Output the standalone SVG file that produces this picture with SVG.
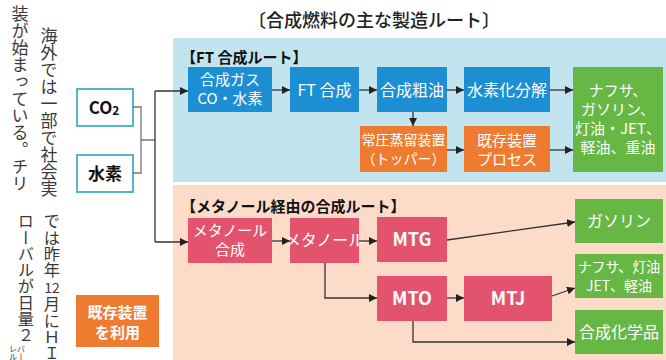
<svg xmlns="http://www.w3.org/2000/svg" width="666" height="360" viewBox="0 0 666 360">
<style>
text{font-family:"Noto Sans CJK JP","Liberation Sans",sans-serif}
.np{font-size:17px;fill:#3a3a3a;writing-mode:vertical-rl}
.np2{font-size:16.3px;fill:#3a3a3a;writing-mode:vertical-rl}
.sm{font-size:8px;fill:#3a3a3a;writing-mode:vertical-rl}
.w{fill:#fff;text-anchor:middle}
.t16{font-size:16px}
.t15{font-size:15px}
.t14{font-size:14px}
.t17{font-size:17px}
.b{font-weight:bold}
.blue{fill:#1c8ed3}
.org{fill:#ee7b30}
.grn{fill:#67b745}
.pink{fill:#e3536e}
.src{fill:#fff;stroke:#56b6c6;stroke-width:2}
.ln{fill:none;stroke:#333;stroke-width:1.3}
.br{fill:none;stroke:#777;stroke-width:1.3}
</style>
<defs>
<marker id="ah" viewBox="0 0 10 10" refX="10" refY="5" markerWidth="8" markerHeight="8" markerUnits="userSpaceOnUse" orient="auto">
<path d="M0,0 L10,5 L0,10 z" fill="#222"/>
</marker>
</defs>
<rect width="666" height="360" fill="#fff"/>
<!-- newspaper text -->
<g id="newspaper">
<text class="np" x="20" y="5">装が始まっている。チリ</text>
<text class="np" x="49" y="27">海外では一部で社会実</text>
<text class="np2" x="26" y="213">ローバルが日量２</text>
<text class="sm" x="21" y="345">バー</text>
<text class="sm" x="13" y="345">レル</text>
<text class="np2" x="52" y="213">では昨年</text>
<text x="52" y="293" style="font-size:14px;fill:#3a3a3a;text-anchor:middle">12</text>
<text class="np2" x="52" y="296">月にＨＩ</text>
</g>
<!-- title -->
<text x="374" y="27" style="font-size:18px;fill:#222;text-anchor:middle;font-weight:500">〔合成燃料の主な製造ルート〕</text>
<!-- panels -->
<rect id="panel-ft" x="173" y="38" width="493" height="144" fill="#c2e4ef"/>
<rect id="panel-meth" x="173" y="185" width="493" height="175" fill="#fcdcc8"/>
<text x="181" y="63" class="t15 b" fill="#111">【FT 合成ルート】</text>
<text x="181" y="212" class="t15 b" fill="#111">【メタノール経由の合成ルート】</text>
<!-- sources -->
<g id="co2"><rect class="src" x="77" y="89" width="56" height="37"/><text x="104" y="114" class="t17 b" text-anchor="middle" fill="#111">CO<tspan font-size="12" dy="1">2</tspan></text></g>
<g id="h2"><rect class="src" x="77" y="155" width="56" height="37"/><text x="105" y="180" class="t17 b" text-anchor="middle" fill="#111">水素</text></g>
<g id="legend"><rect class="org" x="76" y="295" width="83" height="52"/><text class="w t15 b" x="117.5" y="318">既存装置</text><text class="w t15 b" x="117.5" y="338">を利用</text></g>
<!-- FT route nodes -->
<g id="syngas"><rect class="blue" x="188" y="67" width="84" height="45"/><text class="w t15" x="230" y="85">合成ガス</text><text class="w t15" x="230" y="104">CO・水素</text></g>
<g id="ft"><rect class="blue" x="290" y="67" width="69" height="45"/><text class="w t16" x="324.5" y="96">FT 合成</text></g>
<g id="crude"><rect class="blue" x="377" y="67" width="70" height="45"/><text class="w t16" x="412" y="96">合成粗油</text></g>
<g id="hydro"><rect class="blue" x="464" y="67" width="86" height="45"/><text class="w t16" x="507" y="96">水素化分解</text></g>
<g id="fuels1"><rect class="grn" x="573" y="67" width="90" height="105"/><text class="w t15" x="618" y="96">ナフサ、</text><text class="w t15" x="618" y="115">ガソリン、</text><text class="w t15" x="618" y="134">灯油・JET、</text><text class="w t15" x="618" y="153">軽油、重油</text></g>
<g id="topper"><rect class="org" x="360" y="126" width="87" height="46"/><text class="w t14" x="403.5" y="145">常圧蒸留装置</text><text class="w t14" x="403.5" y="164">（トッパー）</text></g>
<g id="existing"><rect class="org" x="464" y="126" width="86" height="46"/><text class="w t15" x="507" y="146">既存装置</text><text class="w t15" x="507" y="165">プロセス</text></g>
<!-- methanol route nodes -->
<g id="methsyn"><rect class="pink" x="188" y="218" width="84" height="45"/><text class="w t15" x="230" y="236">メタノール</text><text class="w t15" x="230" y="255">合成</text></g>
<g id="methanol"><rect class="pink" x="290" y="218" width="69" height="45"/><text class="w t16" x="324.5" y="246">メタノール</text></g>
<g id="mtg"><rect class="pink" x="377" y="217" width="70" height="45"/><text class="w b" style="font-size:18px" x="412" y="246">MTG</text></g>
<g id="mto"><rect class="pink" x="377" y="276" width="70" height="45"/><text class="w b" style="font-size:18px" x="412" y="305">MTO</text></g>
<g id="mtj"><rect class="pink" x="464" y="276" width="88" height="45"/><text class="w b" style="font-size:18px" x="508" y="305">MTJ</text></g>
<g id="gasoline"><rect class="grn" x="575" y="199" width="88" height="44"/><text class="w t16" x="619" y="227">ガソリン</text></g>
<g id="jet"><rect class="grn" x="575" y="254" width="88" height="44"/><text class="w t14" x="619" y="272">ナフサ、灯油</text><text class="w t14" x="619" y="291">JET、軽油</text></g>
<g id="chem"><rect class="grn" x="575" y="310" width="88" height="44"/><text class="w t16" x="619" y="338">合成化学品</text></g>
<!-- connectors -->
<g id="connectors">
<path class="br" d="M133,107 H141 V173 H133 M141,140 H155"/>
<path class="ln" d="M155,91 V242"/>
<path class="ln" d="M155,91 H188" marker-end="url(#ah)"/>
<path class="ln" d="M155,242 H188" marker-end="url(#ah)"/>
<path class="ln" d="M272,90 H290" marker-end="url(#ah)"/>
<path class="ln" d="M359,90 H377" marker-end="url(#ah)"/>
<path class="ln" d="M447,90 H464" marker-end="url(#ah)"/>
<path class="ln" d="M550,90 H573" marker-end="url(#ah)"/>
<path class="ln" d="M413,112 V126" marker-end="url(#ah)"/>
<path class="ln" d="M447,150 H464" marker-end="url(#ah)"/>
<path class="ln" d="M550,150 H573" marker-end="url(#ah)"/>
<path class="ln" d="M272,241 H290" marker-end="url(#ah)"/>
<path class="ln" d="M359,241 H377" marker-end="url(#ah)"/>
<path class="ln" d="M447,240 L575,222" marker-end="url(#ah)"/>
<path class="ln" d="M325,263 V298 H377" marker-end="url(#ah)"/>
<path class="ln" d="M447,298 H464" marker-end="url(#ah)"/>
<path class="ln" d="M552,296 L575,288" marker-end="url(#ah)"/>
<path class="ln" d="M413,321 V342 H575" marker-end="url(#ah)"/>
</g>
</svg>
